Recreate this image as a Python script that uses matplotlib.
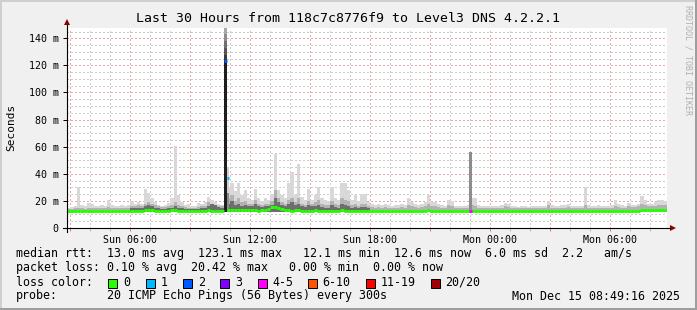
import numpy as np
import matplotlib
matplotlib.use('Agg')
import matplotlib.pyplot as plt
from matplotlib.patches import Rectangle, Polygon
from matplotlib.lines import Line2D

# ---------------- data ----------------
# 10-minute bins, hours since Sun 00:00, starting Sun 02:50
T0 = 2.8333
BIN_H = 1.0 / 6.0

smoke_max = [
    15, 15.5, 16, 30, 17, 16, 18.5, 18, 16, 16.5, 17, 16, 20.5, 17, 16, 16, 17, 16.5, 17,
    20, 18, 19, 17.5, 29, 25.5, 22, 19, 17, 16.5, 17, 18.5, 22, 60.5, 24, 19, 17, 17.5, 16.5, 16,
    18.5, 18, 19, 23, 21, 19, 18, 17,
    17,
    30,
    33, 27, 33, 24, 28, 22, 21, 28.5, 22, 20, 22, 21, 25, 54.5, 28, 24, 22, 33, 41, 24, 47.5, 23, 21, 29, 21, 24, 30,
    22, 21, 20, 30.5, 22, 21, 33, 33, 28, 21, 24, 20, 25, 25, 19, 18, 17, 18, 17, 18,
    17, 16.5, 17, 17, 18, 17, 22, 19, 18, 17, 18, 19, 24, 19, 19, 18,
    17, 16.5, 21, 20, 16, 16, 16.5, 16, 17, 22.5, 22, 17, 16, 16, 16, 16, 16, 16, 17, 18.5,
    18, 16, 16, 15.5, 16, 16, 15.5, 16, 16.5, 16, 16, 16.5, 20, 17, 16, 16.5, 17, 17,
    18, 16.5, 16, 16, 16.5, 30.5, 17, 16, 16.5, 17, 16.5, 16, 16.5, 17, 20.5, 18, 17, 16.5,
    18.5, 17, 17, 17.5, 23.5, 20.5, 18, 18, 19, 20.5, 20.5, 20,
]

smoke_mid = [
    14, 14, 14.5, 15, 14.5, 14, 15, 15, 14.5, 14.5, 15, 14.5, 15.5, 15, 14.5, 14.5, 15, 14.5, 15,
    16, 16, 17, 16, 18, 19, 18, 17, 16, 15.5, 15.5, 16, 17, 19, 17, 16, 15.5, 15, 15, 14.5,
    15.5, 16, 16.5, 19, 18, 17, 16.5, 16,
    16,
    22,
    24, 20, 22, 19, 20, 18, 18, 21, 18, 17, 18, 18, 20, 28, 22, 19, 18, 21, 22, 19, 22, 18, 17, 20, 18, 19, 21,
    18, 17, 17, 20, 18, 17, 22, 21, 20, 17, 18, 16.5, 18, 18, 16, 15.5, 15, 15.5, 15, 15.5,
    15, 15, 15, 15, 15.5, 15, 17, 16, 15.5, 15, 15.5, 16, 18, 16, 16, 15.5,
    15, 15, 17, 16, 14.5, 14.5, 15, 14.5, 15, 17, 16, 15, 14.5, 14.5, 14.5, 14.5, 14.5, 14.5, 15, 16,
    15.5, 14.5, 14.5, 14.5, 14.5, 14.5, 14.5, 14.5, 15, 14.5, 14.5, 15, 17, 15, 14.5, 15, 15, 15,
    15.5, 15, 14.5, 14.5, 15, 17, 15, 14.5, 15, 15, 15, 14.5, 15, 15, 16.5, 15.5, 15, 15,
    16, 15.5, 15.5, 16, 18, 17, 16, 16, 16.5, 17, 17, 17,
]

# dense (dark) smoke near the median, bins 19..90 only
dense_first_bin = 19
smoke_dense = [
    14.5, 14.5, 15, 14.5, 16, 17, 16, 15, 14.5, 14, 14, 14.5, 15, 16.5, 15, 14.5, 14, 14, 14, 14, 14,
    14.5, 15, 16, 18, 17, 15.5, 15,
    np.nan,
    18, 20, 17, 18, 16, 17, 16, 16, 18, 16, 15.5, 16, 16, 17, 22, 19, 17, 16, 18, 19,
    17, 18, 16, 15.5, 17, 16, 16.5, 17,
    15.5, 15, 15, 17, 15.5, 15, 18, 17, 16.5, 15, 15.5, 14.5, 15.5, 15.5, 14.5,
]

median_rtt = [
    12.6, 12.6, 12.7, 12.7, 12.6, 12.5, 12.7, 12.8, 12.6, 12.6, 12.7, 12.6, 12.8, 12.7, 12.6, 12.6, 12.7, 12.7, 12.8,
    12.9, 12.8, 12.9, 12.8, 13.2, 13.4, 13.2, 12.9, 12.7, 12.6, 12.7, 12.8, 13.0, 13.1, 12.9, 12.7, 12.6, 12.6, 12.6, 12.5,
    12.7, 12.7, 12.8, 13.0, 12.9, 12.8, 12.6, 12.3,
    np.nan,
    13.5,
    13.6, 13.4, 13.2, 13.3, 13.0, 13.2, 13.4, 13.0, 12.8, 13.1, 13.3, 13.8, 15.2, 15.8, 14.8, 13.9, 13.4, 13.2, 12.9,
    13.0, 13.2, 12.9, 12.8, 12.9, 12.7, 13.0, 12.9,
    12.8, 12.7, 12.7, 12.9, 12.8, 12.7, 13.0, 12.9, 12.9, 12.7, 12.8, 12.6, 12.5, 12.3, 12.2, 12.2, 12.3, 12.2,
    12.4, 12.3, 12.5, 12.6, 12.5, 12.6, 12.6, 12.5, 12.7, 12.6, 12.6, 12.5, 12.6, 12.7, 13.0, 12.7, 12.6, 12.5,
    12.5, 12.5, 12.7, 12.6, 12.5, 12.4, 12.4, 12.5, 12.5, 12.6, 12.8, 12.7, 12.6, 12.6, 12.5, 12.5, 12.5, 12.5,
    12.5, 12.6, 12.6, 12.5, 12.5, 12.4, 12.4, 12.4, 12.4, 12.4, 12.5, 12.5, 12.5, 12.5, 12.6, 12.6, 12.5, 12.5,
    12.5, 12.6,
    12.7, 12.6, 12.6, 12.6, 12.7, 12.8, 12.7, 12.6, 12.6, 12.7, 12.7, 12.6, 12.7, 12.7, 12.8, 12.8, 12.7, 12.7,
    12.8, 12.8, 12.8, 12.9, 13.1, 13.3, 13.3, 13.4, 13.4, 13.4, 13.5, 13.4,
]

smoke_min = 11.8

# 5-minute loss events (hours since Sun 00:00)
event_start = [10.70, 10.7833, 22.95]
event_median = [123.1, 37.0, 12.5]
event_top = [123.1, 44.0, 56.0]
event_loss = ['2', '1', '4-5']
burst_pings_hi = [128, 133, 138, 143, 150]   # upper pings above the burst median

loss_labels = ['0', '1', '2', '3', '4-5', '6-10', '11-19', '20/20']
loss_colors = ['#26ff00', '#00b8ff', '#0059ff', '#7e00ff', '#ff00ff', '#ff5500', '#ff0000', '#a10000']

y_ticks = [0, 20, 40, 60, 80, 100, 120, 140]
y_tick_labels = ['0', '20 m', '40 m', '60 m', '80 m', '100 m', '120 m', '140 m']
x_label_hours = [6, 12, 18, 24, 30]
x_labels = ['Sun 06:00', 'Sun 12:00', 'Sun 18:00', 'Mon 00:00', 'Mon 06:00']

title = 'Last 30 Hours from 118c7c8776f9 to Level3 DNS 4.2.2.1'
legend_rtt = 'median rtt:  13.0 ms avg  123.1 ms max   12.1 ms min  12.6 ms now  6.0 ms sd  2.2   am/s'
legend_loss = 'packet loss: 0.10 % avg  20.42 % max   0.00 % min  0.00 % now'
probe_text = '20 ICMP Echo Pings (56 Bytes) every 300s'
date_text = 'Mon Dec 15 08:49:16 2025'

# ---------------- figure ----------------
W, H = 697, 310
DPI = 100
MONO = 'DejaVu Sans Mono'
fig = plt.figure(figsize=(W / DPI, H / DPI), dpi=DPI, facecolor='#f0f0f0')


def fx(x):
    return x / W


def fy(y):
    return 1 - y / H


# border shading
fig.patches.append(Rectangle((0, fy(2)), 1, 2 / H, transform=fig.transFigure, color='#cfcfcf', lw=0))
fig.patches.append(Rectangle((0, 0), 2 / W, 1, transform=fig.transFigure, color='#cfcfcf', lw=0))
fig.patches.append(Rectangle((0, 0), 1, 2 / H, transform=fig.transFigure, color='#9e9e9e', lw=0))
fig.patches.append(Rectangle((1 - 2 / W, 0), 2 / W, 1, transform=fig.transFigure, color='#9e9e9e', lw=0))

ax = fig.add_axes([fx(67), fy(228), 600 / W, 200 / H])
ax.set_facecolor('white')
XMIN, XMAX = T0, T0 + 30
YMAX = 147.6
ax.set_xlim(XMIN, XMAX)
ax.set_ylim(0, YMAX)
for s in ax.spines.values():
    s.set_visible(False)

# grid
dot = (0, (1, 2))
GRAY = '#cdcdcd'
RED = '#eaa8a8'
for v in np.arange(5, YMAX, 5):
    if v % 20 == 0:
        continue
    ax.axhline(v, color=GRAY, lw=0.75, ls=dot, zorder=0, snap=True, antialiased=False)
for v in y_ticks[1:]:
    ax.axhline(v, color=RED, lw=0.75, ls=dot, zorder=0.5, snap=True, antialiased=False)
for h in range(3, 33):
    ax.axvline(h, color=RED if h % 3 == 0 else GRAY, lw=0.75, ls=dot,
               zorder=0.5 if h % 3 == 0 else 0, snap=True, antialiased=False)

# smoke
t = T0 + np.arange(len(smoke_max)) * BIN_H
smax = np.array(smoke_max)
smid = np.array(smoke_mid)
ax.bar(t, smax - smoke_min, width=BIN_H, bottom=smoke_min, align='edge',
       color='#d8d8d8', linewidth=0, zorder=2)
ax.bar(t, smid - smoke_min, width=BIN_H, bottom=smoke_min, align='edge',
       color='#b2b2b2', linewidth=0, zorder=3)
sd = np.array(smoke_dense, dtype=float)
td = T0 + (dense_first_bin + np.arange(len(sd))) * BIN_H
okd = ~np.isnan(sd)
ax.bar(td[okd], sd[okd] - smoke_min, width=BIN_H, bottom=smoke_min, align='edge',
       color='#6e6e6e', linewidth=0, zorder=3.5)

# loss events (5-min steps)
step5 = 1.0 / 12.0
color_of = dict(zip(loss_labels, loss_colors))
# burst step 1: dense pings up to median, gradient above
ax.bar([event_start[0]], [event_top[0] - smoke_min], width=step5 * 1.5, bottom=smoke_min, align='edge',
       color='#1e1e1e', linewidth=0, zorder=4)
shades = ['#3a3a3a', '#555555', '#707070', '#8c8c8c', '#a8a8a8']
lo = event_top[0]
for hi, c in zip(burst_pings_hi, shades):
    ax.bar([event_start[0]], [hi - lo], width=step5 * 1.5, bottom=lo, align='edge', color=c,
           linewidth=0, zorder=4)
    lo = hi
# burst step 2
ax.bar([event_start[1] + step5 * 0.5], [event_top[1] - smoke_min], width=step5, bottom=smoke_min,
       align='edge', color='#cfcfcf', linewidth=0, zorder=4)
ax.bar([event_start[1] + step5 * 0.5], [26 - smoke_min], width=step5, bottom=smoke_min,
       align='edge', color='#8a8a8a', linewidth=0, zorder=4)
# midnight loss
ax.bar([event_start[2]], [event_top[2] - smoke_min], width=step5 * 1.3, bottom=smoke_min, align='edge',
       color='#8c8c8c', linewidth=0, zorder=4)

# median line
med = np.array(median_rtt, dtype=float)
ok = ~np.isnan(med)
ax.hlines(med[ok], t[ok], t[ok] + BIN_H, colors=loss_colors[0], lw=2.16, zorder=5)
ev_x0 = [event_start[0], event_start[1] + step5 * 0.5, event_start[2]]
for s0, m, l in zip(ev_x0, event_median, event_loss):
    ax.hlines([m], [s0], [s0 + step5 * 1.3], colors=color_of[l], lw=2.16, zorder=6)

# ticks
ax.set_yticks(y_ticks)
ax.set_yticklabels(y_tick_labels, fontfamily=MONO, fontsize=7.2)
ax.tick_params(axis='y', length=3, width=0.72, color='black', pad=3)
xt = list(range(3, 33, 3))
ax.set_xticks(xt)
ax.set_xticklabels([x_labels[x_label_hours.index(h)] if h in x_label_hours else '' for h in xt],
                   fontfamily=MONO, fontsize=7.2)
ax.tick_params(axis='x', length=2, width=0.72, color='#e08080', pad=3)
ax.set_xticks(range(3, 33), minor=True)
ax.tick_params(axis='x', which='minor', length=2, width=0.72, color='#bbbbbb')

# axis lines and arrows
fig.add_artist(Line2D([fx(63), fx(670)], [fy(228), fy(228)], color='black', lw=0.8))
fig.add_artist(Line2D([fx(67), fx(67)], [fy(232), fy(25)], color='black', lw=0.8))
fig.add_artist(Polygon([[fx(670), fy(225)], [fx(670), fy(231)], [fx(676), fy(228)]],
                       closed=True, transform=fig.transFigure, color='#8b0000', lw=0))
fig.add_artist(Polygon([[fx(64), fy(25)], [fx(70), fy(25)], [fx(67), fy(19)]],
                       closed=True, transform=fig.transFigure, color='#8b0000', lw=0))

# texts
fig.text(fx(348), fy(19), title, ha='center', va='center', fontfamily=MONO, fontsize=9.5)
fig.text(fx(11), fy(127), 'Seconds', ha='center', va='center', rotation=90,
         fontfamily=MONO, fontsize=8)
fig.text(fx(688), fy(5), 'RRDTOOL / TOBI OETIKER', ha='center', va='top', rotation=270,
         fontfamily=MONO, fontsize=6, color='#b0b0b0')

LS = 8.37
fig.text(fx(16), fy(254), legend_rtt, ha='left', va='center', fontfamily=MONO, fontsize=LS)
fig.text(fx(16), fy(268), legend_loss, ha='left', va='center', fontfamily=MONO, fontsize=LS)
fig.text(fx(16), fy(282), 'loss color:', ha='left', va='center', fontfamily=MONO, fontsize=LS)
box_x = [108, 146, 183, 220, 257.5, 307.5, 365.5, 430.5]
for bx, lab, col in zip(box_x, loss_labels, loss_colors):
    fig.patches.append(Rectangle((fx(bx), fy(287.5)), 9 / W, 9 / H, transform=fig.transFigure,
                                 facecolor=col, edgecolor='black', lw=0.72))
    fig.text(fx(bx + 15), fy(282), lab, ha='left', va='center', fontfamily=MONO, fontsize=LS)
fig.text(fx(16), fy(296), 'probe:', ha='left', va='center', fontfamily=MONO, fontsize=LS)
fig.text(fx(107), fy(296), probe_text, ha='left', va='center', fontfamily=MONO, fontsize=LS)
fig.text(fx(680), fy(296), date_text, ha='right', va='center', fontfamily=MONO, fontsize=LS)

fig.savefig('out.png', dpi=DPI, facecolor=fig.get_facecolor())
